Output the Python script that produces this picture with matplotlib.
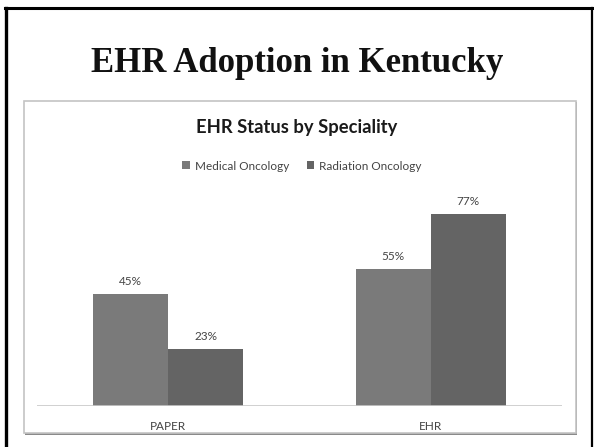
import matplotlib.pyplot as plt
from matplotlib.patches import Rectangle
from matplotlib.lines import Line2D

categories = ['PAPER', 'EHR']
medical = [45, 55]
radiation = [23, 77]
series_names = ['Medical Oncology', 'Radiation Oncology']
colors = ['#7a7a7a', '#646464']

W, H = 594, 447
fig = plt.figure(figsize=(W / 100, H / 100), dpi=100)
fig.patch.set_facecolor('white')

def fx(px):
    return px / W

def fy(py):
    return 1 - py / H

# outer slide frame (open at the bottom)
fig.add_artist(Line2D([fx(5.5), fx(5.5)], [fy(8), 0], color='black', lw=2.4, zorder=-2))
fig.add_artist(Line2D([fx(4.5), fx(592)], [fy(8), fy(8)], color='black', lw=2.2, zorder=-2))
fig.add_artist(Line2D([fx(592), fx(592)], [fy(8), 0], color='black', lw=1.6, zorder=-2))

# chart box with shadow
fig.add_artist(Rectangle((fx(25), fy(435)), fx(552), 333 / H, facecolor='#8a8a8a',
                         edgecolor='none', zorder=-2))
fig.add_artist(Rectangle((fx(24), fy(433)), fx(552), 332 / H, facecolor='white',
                         edgecolor='#c4c4c4', lw=1.2, zorder=-1))

fig.text(0.5, fy(72), 'EHR Adoption in Kentucky', ha='center', va='baseline',
         fontsize=25, fontweight='bold', family='Liberation Serif', color='#111111')
fig.text(0.5, fy(128), 'EHR Status by Speciality', ha='center', va='center',
         fontsize=13.2, fontweight='bold', family='Lato', color='#1a1a1a')

# plot area: baseline at y=406, 2.5 px per percent
ax = fig.add_axes([fx(37), fy(406), fx(525), 250 / H])
ax.set_zorder(5)
ax.set_xlim(-0.5, 1.5)
ax.set_ylim(0, 100)
ax.patch.set_alpha(0)
for s in ax.spines.values():
    s.set_visible(False)
ax.axhline(0, color='#c8c8c8', lw=1.2, xmin=0, xmax=1, zorder=3)
ax.set_yticks([])
ax.set_xticks(range(len(categories)))
ax.set_xticklabels(categories, family='Lato', fontsize=8.5, color='#444444')
ax.tick_params(axis='x', length=0, pad=11)

bw = 75 / 262.5
x = range(len(categories))
b1 = ax.bar([i - bw / 2 for i in x], medical, bw, color=colors[0], label=series_names[0])
b2 = ax.bar([i + bw / 2 for i in x], radiation, bw, color=colors[1], label=series_names[1])
for bars in (b1, b2):
    for r in bars:
        ax.text(r.get_x() + r.get_width() / 2, r.get_height() + 2.6, f'{r.get_height():.0f}%',
                ha='center', va='bottom', family='Lato', fontsize=8.5, color='#444444')

leg = fig.legend(handles=[b1, b2], labels=series_names, loc='center',
                 bbox_to_anchor=(fx(302), fy(166)), ncol=2, frameon=False,
                 prop={'family': 'Lato', 'size': 8.5}, handlelength=0.65, handleheight=0.65,
                 handletextpad=0.4, columnspacing=1.5)
for t in leg.get_texts():
    t.set_color('#444444')

fig.savefig('out.png', dpi=100)
